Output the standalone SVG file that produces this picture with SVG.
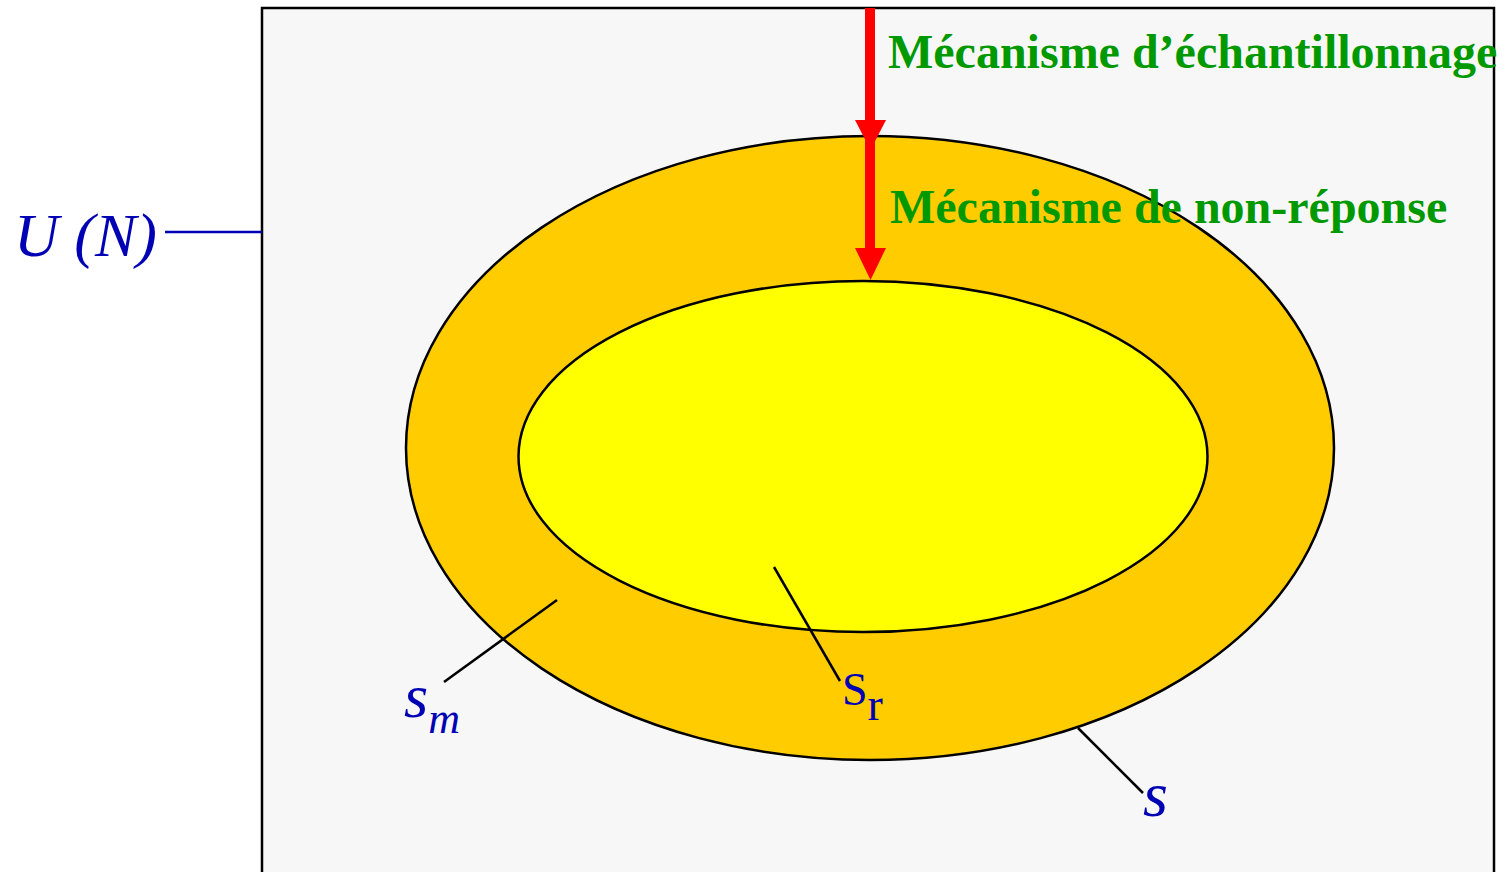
<svg xmlns="http://www.w3.org/2000/svg" width="1504" height="872" viewBox="0 0 1504 872">
<style>
.lbl{font-family:"Liberation Serif","Times New Roman",serif;fill:#0000b4}
.it{font-style:italic}
.mech{font-family:"Liberation Serif","Times New Roman",serif;font-weight:bold;font-size:48px;fill:#009900}
.lead{stroke:#000;stroke-width:2.5;fill:none}
</style>
<rect width="1504" height="872" fill="#ffffff"/>
<g id="universe">
<rect x="262" y="8" width="1232" height="866" fill="#f7f7f7" stroke="#000" stroke-width="2.5"/>
</g>
<g id="sample">
<ellipse cx="870" cy="448" rx="464" ry="312" fill="#ffcc00" stroke="#000" stroke-width="2.5"/>
</g>
<g id="respondents">
<ellipse cx="863" cy="456.5" rx="344.5" ry="175.5" fill="#ffff00" stroke="#000" stroke-width="2.5"/>
</g>
<g id="connectors">
<line x1="165" y1="232" x2="262" y2="232" stroke="#0000b4" stroke-width="2.5"/>
<line class="lead" x1="444" y1="682" x2="557" y2="600"/>
<line class="lead" x1="774" y1="567" x2="840" y2="681"/>
<line class="lead" x1="1078" y1="728" x2="1143" y2="793"/>
<line x1="870" y1="8" x2="870" y2="125" stroke="#ff0000" stroke-width="10"/>
<polygon points="855,120 886,120 870.5,150" fill="#ff0000"/>
<line x1="870" y1="140" x2="870" y2="252" stroke="#ff0000" stroke-width="10"/>
<polygon points="855,248 886,248 870.5,280" fill="#ff0000"/>
</g>
<g id="labels">
<text class="lbl it" x="14" y="256" font-size="62">U (N)</text>
<text class="lbl it" x="404" y="717" font-size="62">s<tspan font-size="44" dy="16">m</tspan></text>
<text class="lbl" x="842" y="705" font-size="46">S<tspan dy="15">r</tspan></text>
<text class="lbl it" x="1143" y="816" font-size="64">s</text>
<text class="mech" x="888" y="68">Mécanisme d’échantillonnage</text>
<text class="mech" x="890" y="223">Mécanisme de non-réponse</text>
</g>
</svg>
